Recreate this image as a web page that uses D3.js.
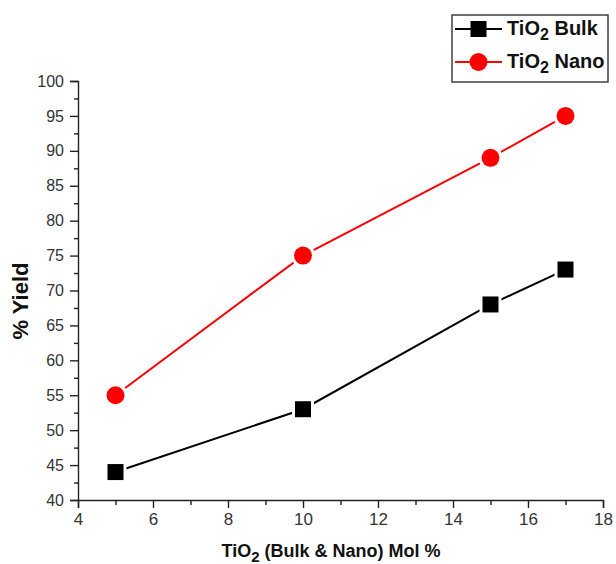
<!DOCTYPE html>
<html><head><meta charset="utf-8">
<script src="https://cdn.jsdelivr.net/npm/d3@7"></script>
<style>body{margin:0;background:#fff}svg{display:block}</style>
</head><body>
<script>
const molPercent = [5, 10, 15, 17];
const bulkYield = [44, 53, 68, 73];
const nanoYield = [55, 75, 89, 95];
const xTicks = [4, 6, 8, 10, 12, 14, 16, 18];
const yTicks = [40, 45, 50, 55, 60, 65, 70, 75, 80, 85, 90, 95, 100];
const seriesNames = ["Bulk", "Nano"];

const W = 616, H = 564;
const svg = d3.select("body").append("svg").attr("width", W).attr("height", H)
  .style("font-family", "'Liberation Sans', Arial, sans-serif");

const x = d3.scaleLinear().domain([4, 18]).range([78, 603]);
const y = d3.scaleLinear().domain([40, 100]).range([500, 81]);

// axes
svg.append("g").attr("class", "xa").attr("transform", `translate(0,${y(40)})`)
  .call(d3.axisBottom(x).tickValues(xTicks).tickSize(8).tickPadding(5).tickFormat(d3.format("d")));
svg.append("g").attr("transform", `translate(0,${y(40)})`)
  .call(d3.axisBottom(x).tickValues(d3.range(5, 18, 2)).tickSize(5).tickFormat(""))
  .select(".domain").remove();
svg.append("g").attr("class", "ya").attr("transform", `translate(${x(4)},0)`)
  .call(d3.axisLeft(y).tickValues(yTicks).tickSize(8).tickPadding(6).tickFormat(d3.format("d")));
svg.append("g").attr("transform", `translate(${x(4)},0)`)
  .call(d3.axisLeft(y).tickValues(d3.range(42.5, 100, 5)).tickSize(4).tickFormat(""))
  .select(".domain").remove();
svg.selectAll(".domain").attr("stroke", "#222").attr("stroke-width", 1.4);
svg.selectAll(".tick line").attr("stroke", "#222").attr("stroke-width", 1.4);
svg.selectAll(".tick text").attr("font-size", 16).attr("fill", "#333")
  .attr("font-family", "'Liberation Sans', Arial, sans-serif");
svg.selectAll(".xa .tick text").attr("font-size", 17);

// axis titles
svg.append("text").attr("transform", `translate(28,301) rotate(-90)`).attr("text-anchor", "middle")
  .attr("font-weight", "bold").attr("font-size", 22).attr("fill", "#111").text("% Yield");
const xt = svg.append("text").attr("x", 331).attr("y", 557).attr("text-anchor", "middle")
  .attr("font-weight", "bold").attr("font-size", 18).attr("fill", "#111");
xt.append("tspan").text("TiO");
xt.append("tspan").attr("font-size", 15).attr("dy", 5).text("2");
xt.append("tspan").attr("dy", -5).text(" (Bulk & Nano) Mol %");

const series = [
  {name: seriesNames[0], vals: bulkYield, color: "#000", shape: "square"},
  {name: seriesNames[1], vals: nanoYield, color: "#ff0000", shape: "circle"}
];

function drawMarker(g, cx, cy, s, halo) {
  if (s.shape === "square") {
    const h = halo ? 11 : 8;
    g.append("rect").attr("x", cx - h).attr("y", cy - h).attr("width", 2*h).attr("height", 2*h)
      .attr("fill", halo ? "#fff" : s.color);
  } else {
    g.append("circle").attr("cx", cx).attr("cy", cy).attr("r", halo ? 12 : 9)
      .attr("fill", halo ? "#fff" : s.color);
  }
}

const line = d3.line().x(d => x(d[0])).y(d => y(d[1]));
series.forEach(s => {
  const pts = molPercent.map((m, i) => [m, s.vals[i]]);
  const g = svg.append("g");
  g.append("path").attr("d", line(pts)).attr("fill", "none").attr("stroke", s.color).attr("stroke-width", 2);
  pts.forEach(p => drawMarker(g, x(p[0]), y(p[1]), s, true));
  pts.forEach(p => drawMarker(g, x(p[0]), y(p[1]), s, false));
});

// legend
const lg = svg.append("g");
lg.append("rect").attr("x", 452).attr("y", 15).attr("width", 156).attr("height", 67)
  .attr("fill", "#fff").attr("stroke", "#333").attr("stroke-width", 1.4);
series.forEach((s, i) => {
  const cy = 29 + i * 33;
  lg.append("line").attr("x1", 455).attr("x2", 502).attr("y1", cy).attr("y2", cy)
    .attr("stroke", s.color).attr("stroke-width", 2);
  drawMarker(lg, 478.5, cy, s, false);
  const t = lg.append("text").attr("x", 507).attr("y", cy + 6).attr("font-weight", "bold")
    .attr("font-size", 20).attr("fill", "#111");
  t.append("tspan").text("TiO");
  t.append("tspan").attr("font-size", 16).attr("dy", 5).text("2");
  t.append("tspan").attr("dy", -5).text(" " + s.name);
});
</script>
</body></html>
